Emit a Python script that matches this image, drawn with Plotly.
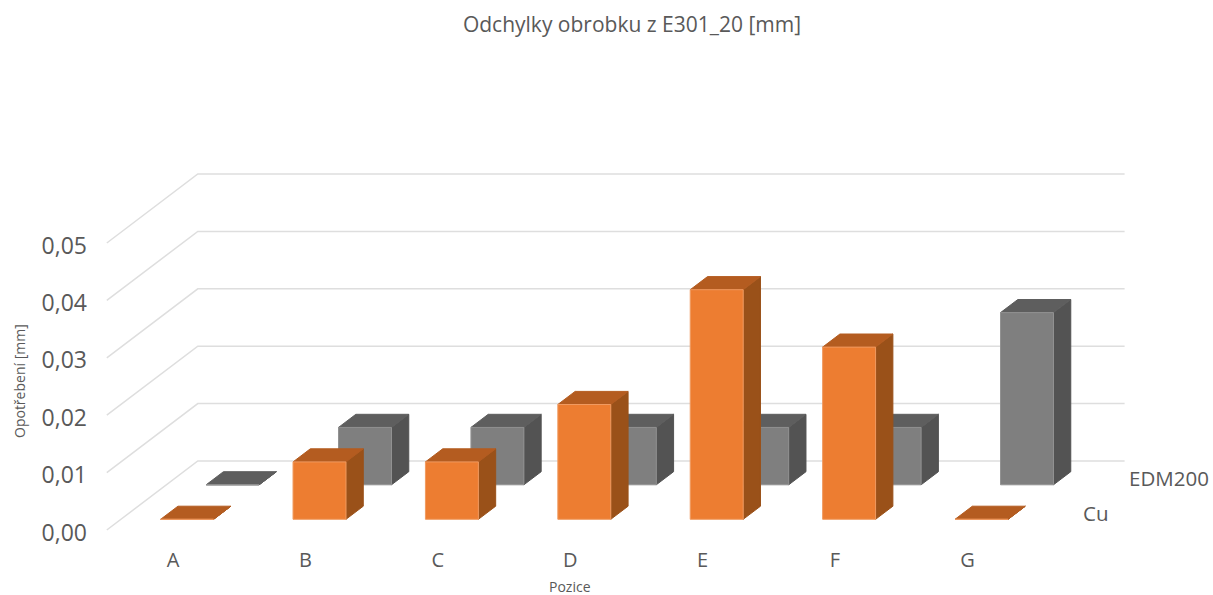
import plotly.graph_objects as go

# ---- data ----
categories = ["A", "B", "C", "D", "E", "F", "G"]
cu_values = [0.0, 0.01, 0.01, 0.02, 0.04, 0.03, 0.0]
edm_values = [0.0, 0.01, 0.01, 0.01, 0.01, 0.01, 0.03]
value_ticks = [0.0, 0.01, 0.02, 0.03, 0.04, 0.05]
value_labels = ["0,00", "0,01", "0,02", "0,03", "0,04", "0,05"]
series_names = ["Cu", "EDM200"]

# ---- oblique projection, in axis units ----
W, H = 1213, 595
PLOT_L, PLOT_B = 88, 49
X_UNIT, Y_UNIT = 132.4, 5740.0      # px per category, px per mm
X0_PX, Y0_PX = 173.0, 461.0         # category A on the front edge, value 0 on the back wall
DX = 91.0 / X_UNIT                  # x shift over whole depth
DY = 69.0 / Y_UNIT                  # y shift over whole depth
LABEL_DROP = 2.5 / Y_UNIT           # tick labels sit slightly below their gridline ends
BAR_HALF_W = 0.2
BAR_HALF_D = 0.095


def proj(i, t, v):
    return i + t * DX, v - (1 - t) * DY


def polys(values, t_c, face):
    xs, ys = [], []
    t0, t1 = t_c - BAR_HALF_D, t_c + BAR_HALF_D
    for i, v in enumerate(values):
        l, r = i - BAR_HALF_W, i + BAR_HALF_W
        if face == "front":
            pts = [proj(l, t0, 0), proj(r, t0, 0), proj(r, t0, v), proj(l, t0, v)]
        elif face == "side":
            pts = [proj(r, t0, 0), proj(r, t1, 0), proj(r, t1, v), proj(r, t0, v)]
        else:
            pts = [proj(l, t0, v), proj(r, t0, v), proj(r, t1, v), proj(l, t1, v)]
        pts.append(pts[0])
        xs += [p[0] for p in pts] + [None]
        ys += [p[1] for p in pts] + [None]
    return xs, ys


fig = go.Figure()

# walls: gridlines run along the side wall, then along the back wall
gx, gy = [], []
for v in value_ticks:
    for i, t in [(-0.5, 0), (-0.5, 1), (6.5, 1)]:
        x, y = proj(i, t, v)
        gx.append(x)
        gy.append(y)
    gx.append(None)
    gy.append(None)
fig.add_trace(go.Scatter(x=gx, y=gy, mode="lines", line=dict(color="#DEDEDE", width=1.5),
                         hoverinfo="skip", showlegend=False))

styles = {
    "EDM200": dict(front="#7F7F7F", side="#535353", top="#5E5E5E", edge="#929292"),
    "Cu": dict(front="#ED7D31", side="#9A5119", top="#B45C20", edge="#F09A60"),
}


def add_series(name, values, t_c):
    s = styles[name]
    for face in ["side", "top", "front"]:
        xs, ys = polys(values, t_c, face)
        fig.add_trace(go.Scatter(
            x=xs, y=ys, mode="lines", fill="toself", fillcolor=s[face], name=name,
            line=dict(color=s["edge"] if face == "front" else s[face], width=1),
            hoverinfo="name", showlegend=False))


add_series("EDM200", edm_values, 0.75)
add_series("Cu", cu_values, 0.25)

# depth-axis labels
annotations = []
for name, t in zip(series_names, [0.25, 0.75]):
    x, y = proj(6.5, t, 0)
    annotations.append(dict(x=x, y=y, xref="x", yref="y", text=name, showarrow=False,
                            xanchor="left", yanchor="middle", xshift=25,
                            font=dict(family="Open Sans", size=20.5, color="#595959")))

plot_w = W - PLOT_L
plot_h = H - PLOT_B
annotations.append(dict(x=(570 - PLOT_L) / plot_w, y=(H - 586 - PLOT_B) / plot_h, xref="paper", yref="paper",
                        text="Pozice", showarrow=False, xanchor="center", yanchor="middle",
                        font=dict(family="Open Sans", size=14, color="#595959")))
annotations.append(dict(x=(19 - PLOT_L) / plot_w, y=(H - 381 - PLOT_B) / plot_h, xref="paper", yref="paper",
                        text="Opotřebení [mm]", textangle=-90, showarrow=False,
                        xanchor="center", yanchor="middle",
                        font=dict(family="Open Sans", size=14, color="#595959")))

fig.update_layout(
    width=W, height=H,
    margin=dict(l=PLOT_L, r=0, t=0, b=PLOT_B, pad=0),
    paper_bgcolor="white", plot_bgcolor="white",
    showlegend=False,
    title=dict(text="Odchylky obrobku z E301_20 [mm]", x=632 / W, xanchor="center",
               y=1 - 25 / H, yanchor="middle",
               font=dict(family="Open Sans", size=21, color="#595959")),
    annotations=annotations,
    xaxis=dict(range=[(PLOT_L - X0_PX) / X_UNIT, (W - X0_PX) / X_UNIT],
               tickmode="array", tickvals=list(range(len(categories))), ticktext=categories,
               showgrid=False, zeroline=False, showline=False, ticks="", fixedrange=True,
               tickfont=dict(family="Open Sans", size=20, color="#595959")),
    yaxis=dict(range=[(Y0_PX - (H - PLOT_B)) / Y_UNIT, Y0_PX / Y_UNIT],
               tickmode="array", tickvals=[v - DY - LABEL_DROP for v in value_ticks], ticktext=value_labels,
               showgrid=False, zeroline=False, showline=False, ticks="", fixedrange=True,
               tickfont=dict(family="Open Sans", size=23, color="#595959")),
)

fig.write_html("out.html", post_script="document.body.style.margin='0';",
               config=dict(displayModeBar=False))
